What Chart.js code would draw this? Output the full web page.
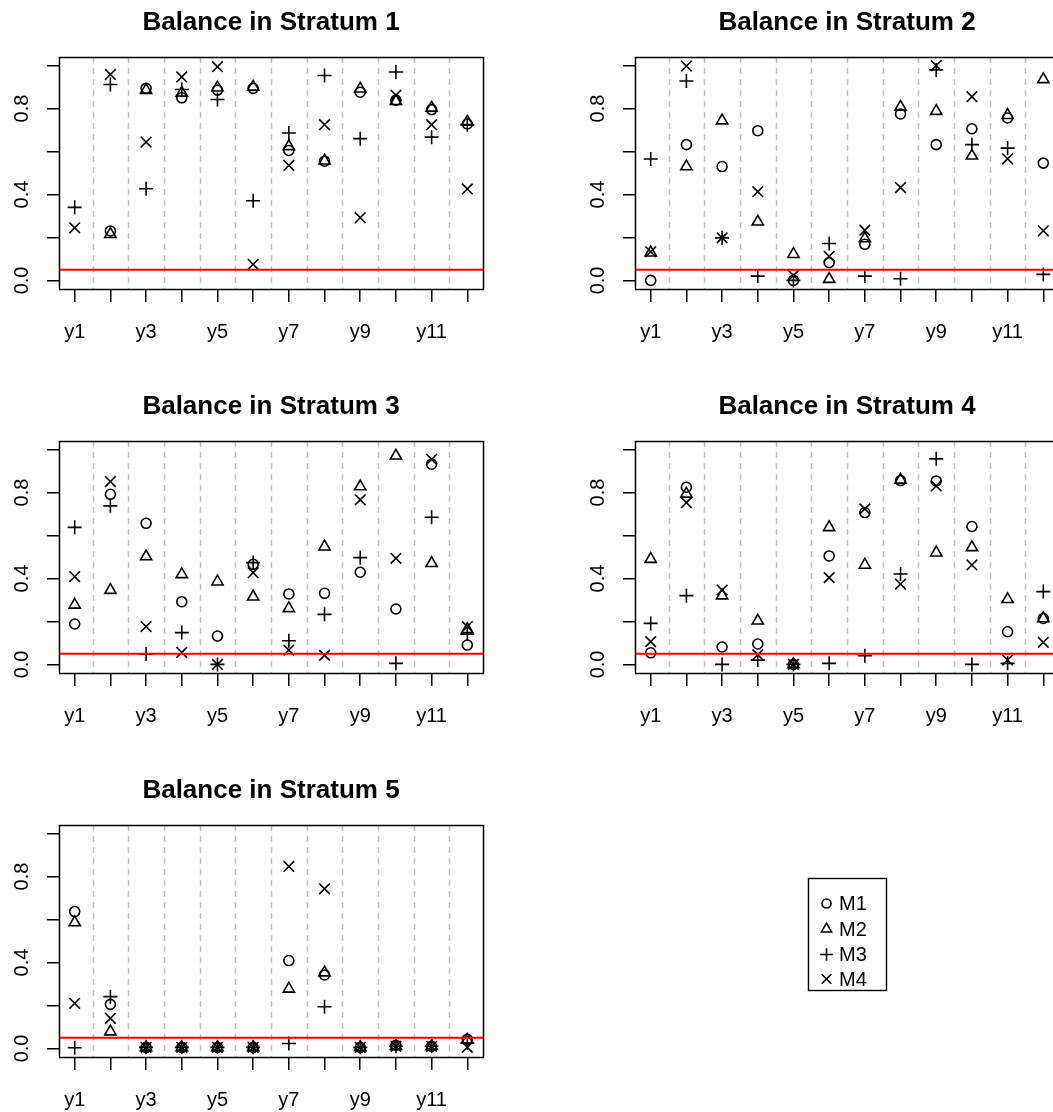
<!DOCTYPE html>
<html>
<head>
<meta charset="utf-8">
<script src="https://cdn.jsdelivr.net/npm/chart.js@4.4.1/dist/chart.umd.min.js"></script>
<style>
  html, body { margin: 0; padding: 0; background: #fff; overflow: hidden; width: 1053px; height: 1112px; }
  .cell { position: absolute; width: 576px; height: 384px; }
  .cell canvas { display: block; }
</style>
</head>
<body>
<div class="cell" style="left:0;top:0"><canvas id="p1" width="576" height="384"></canvas></div>
<div class="cell" style="left:576px;top:0"><canvas id="p2" width="576" height="384"></canvas></div>
<div class="cell" style="left:0;top:384px"><canvas id="p3" width="576" height="384"></canvas></div>
<div class="cell" style="left:576px;top:384px"><canvas id="p4" width="576" height="384"></canvas></div>
<div class="cell" style="left:0;top:768px"><canvas id="p5" width="576" height="384"></canvas></div>
<div class="cell" style="left:576px;top:768px"><canvas id="leg" width="576" height="384"></canvas></div>
<script>
// Covariates on the x axis and the four matching methods
const categories = ['y1','y2','y3','y4','y5','y6','y7','y8','y9','y10','y11','y12'];
const methodNames = ['M1','M2','M3','M4'];
const yTickValues = [0, 0.2, 0.4, 0.6, 0.8, 1.0];
const yTickLabels = ['0.0', '', '0.4', '', '0.8', ''];
const threshold = 0.05;

// Balance p-values, stratum 1
const s1M1 = [null, 0.230, 0.894, 0.850, 0.886, 0.894, 0.605, 0.555, 0.876, 0.839, 0.795, 0.728];
const s1M2 = [null, 0.215, 0.886, 0.873, 0.897, 0.901, 0.624, 0.557, 0.892, 0.834, 0.803, 0.738];
const s1M3 = [0.340, 0.912, 0.427, 0.889, 0.842, 0.371, 0.686, 0.954, 0.660, 0.970, 0.667, 0.725];
const s1M4 = [0.245, 0.959, 0.644, 0.947, 0.995, 0.075, 0.535, 0.725, 0.292, 0.862, 0.725, 0.426];

// stratum 2
const s2M1 = [0.000, 0.632, 0.530, 0.697, 0.000, 0.083, 0.168, 0.775, 0.632, 0.706, 0.756, 0.546];
const s2M2 = [0.129, 0.530, 0.744, 0.273, 0.122, 0.006, 0.195, 0.808, 0.788, 0.580, 0.769, 0.936];
const s2M3 = [0.565, 0.928, 0.198, 0.020, 0.000, 0.172, 0.020, 0.008, 0.980, 0.632, 0.616, 0.028];
const s2M4 = [0.133, 0.998, 0.198, 0.413, 0.023, 0.112, 0.234, 0.432, 1.000, 0.855, 0.566, 0.231];

// stratum 3
const s3M1 = [0.188, 0.792, 0.657, 0.292, 0.132, 0.466, 0.328, 0.331, 0.429, 0.258, 0.932, 0.090];
const s3M2 = [0.277, 0.346, 0.502, 0.419, 0.385, 0.315, 0.261, 0.548, 0.828, 0.971, 0.471, 0.163];
const s3M3 = [0.638, 0.738, 0.048, 0.148, 0.000, 0.474, 0.110, 0.233, 0.497, 0.005, 0.685, 0.141];
const s3M4 = [0.409, 0.851, 0.176, 0.056, 0.000, 0.427, 0.067, 0.042, 0.766, 0.494, 0.955, 0.176];

// stratum 4
const s4M1 = [0.054, 0.825, 0.081, 0.095, 0.000, 0.505, 0.707, 0.856, 0.854, 0.642, 0.152, 0.214];
const s4M2 = [0.490, 0.794, 0.320, 0.203, 0.000, 0.638, 0.463, 0.859, 0.520, 0.545, 0.303, 0.214];
const s4M3 = [0.191, 0.320, 0.000, 0.020, 0.000, 0.005, 0.040, 0.421, 0.957, 0.000, 0.005, 0.339];
const s4M4 = [0.106, 0.753, 0.346, 0.045, 0.000, 0.404, 0.724, 0.374, 0.831, 0.463, 0.020, 0.103];

// stratum 5
const s5M1 = [0.637, 0.205, 0.005, 0.005, 0.005, 0.005, 0.409, 0.342, 0.005, 0.015, 0.010, 0.042];
const s5M2 = [0.586, 0.078, 0.005, 0.005, 0.005, 0.005, 0.277, 0.353, 0.005, 0.010, 0.010, 0.040];
const s5M3 = [0.003, 0.241, 0.005, 0.005, 0.005, 0.005, 0.023, 0.194, 0.005, 0.010, 0.010, 0.025];
const s5M4 = [0.210, 0.140, 0.005, 0.005, 0.005, 0.005, 0.847, 0.743, 0.005, 0.010, 0.010, 0.005];

// Marker look for each method (open circle, open triangle, plus, cross)
const markerStyles = ['circle', 'triangle', 'cross', 'crossRot'];
const markerRadius = [5, 6.5, 7, 7.5];
const markerStroke = 1.6;

const FONT = '"Liberation Sans", Arial, Helvetica, sans-serif';
const n = categories.length;
const xPad = 0.04 * (n - 1);
const yMin = 0, yMax = 1;
const yPad = 0.04 * (yMax - yMin);

// Draws the panel frame, separators, reference line, rotated y labels and title
const panelDecor = {
  id: 'panelDecor',
  beforeDatasetsDraw(chart) {
    const { ctx, chartArea: a, scales: { x } } = chart;
    ctx.save();
    ctx.strokeStyle = '#BEBEBE';
    ctx.lineWidth = 1.5;
    ctx.setLineDash([6, 5]);
    for (let i = 1; i < n; i++) {
      const px = Math.round(x.getPixelForValue(i + 0.5)) + 0.5;
      ctx.beginPath();
      ctx.moveTo(px, a.top);
      ctx.lineTo(px, a.bottom);
      ctx.stroke();
    }
    ctx.restore();
  },
  afterDatasetsDraw(chart) {
    const { ctx, chartArea: a, scales: { y } } = chart;
    const py = y.getPixelForValue(threshold);
    ctx.save();
    ctx.strokeStyle = '#FF0000';
    ctx.lineWidth = 2;
    ctx.beginPath();
    ctx.moveTo(a.left, py);
    ctx.lineTo(a.right, py);
    ctx.stroke();
    ctx.restore();
  },
  afterDraw(chart, args, opts) {
    const { ctx, chartArea: a, scales: { y } } = chart;
    ctx.save();
    ctx.strokeStyle = '#000';
    ctx.lineWidth = 1.5;
    ctx.strokeRect(Math.round(a.left) + 0.5, Math.round(a.top) + 0.5,
                   Math.round(a.right - a.left), Math.round(a.bottom - a.top));
    // y tick labels, rotated as in base graphics
    ctx.fillStyle = '#000';
    ctx.font = '20px ' + FONT;
    ctx.textAlign = 'center';
    ctx.textBaseline = 'alphabetic';
    yTickValues.forEach((v, i) => {
      if (!yTickLabels[i]) return;
      ctx.save();
      ctx.translate(a.left - 31.5, y.getPixelForValue(v));
      ctx.rotate(-Math.PI / 2);
      ctx.fillText(yTickLabels[i], 0, 0);
      ctx.restore();
    });
    // panel title
    ctx.font = 'bold 26px ' + FONT;
    ctx.fillText(opts.title, (a.left + a.right) / 2, 30);
    ctx.restore();
  }
};

function buildPanel(id, title, series) {
  const datasets = series.map((vals, k) => ({
    label: methodNames[k],
    data: vals.map((v, i) => ({ x: i + 1, y: v })).filter(p => p.y !== null),
    pointStyle: markerStyles[k],
    pointRadius: markerRadius[k],
    pointHoverRadius: markerRadius[k],
    borderColor: '#000',
    backgroundColor: 'rgba(0,0,0,0)',
    pointBorderWidth: markerStroke,
    showLine: false
  }));
  return new Chart(document.getElementById(id), {
    type: 'scatter',
    data: { datasets },
    options: {
      responsive: false,
      animation: false,
      devicePixelRatio: 1,
      layout: { padding: { left: 0, right: 93, top: 57, bottom: 0 } },
      plugins: {
        legend: { display: false },
        tooltip: { enabled: false },
        title: { display: false },
        panelDecor: { title }
      },
      scales: {
        x: {
          type: 'linear',
          min: 1 - xPad,
          max: n + xPad,
          afterBuildTicks: s => { s.ticks = categories.map((_, i) => ({ value: i + 1 })); },
          afterFit: s => { s.height = 95; },
          border: { display: false },
          grid: { drawOnChartArea: false, drawTicks: true, tickLength: 13, tickColor: '#000', tickWidth: 1.5, color: '#000', lineWidth: 1.5 },
          ticks: {
            autoSkip: false, maxRotation: 0, minRotation: 0, padding: 18,
            color: '#000', font: { family: FONT, size: 20 },
            callback: v => { const i = Math.round(v) - 1; return i % 2 === 0 ? categories[i] : ''; }
          }
        },
        y: {
          type: 'linear',
          min: yMin - yPad,
          max: yMax + yPad,
          afterBuildTicks: s => { s.ticks = yTickValues.map(v => ({ value: v })); },
          afterFit: s => { s.width = 59; },
          border: { display: false },
          grid: { drawOnChartArea: false, drawTicks: true, tickLength: 12, tickColor: '#000', tickWidth: 1.5, color: '#000', lineWidth: 1.5 },
          ticks: { display: false }
        }
      }
    },
    plugins: [panelDecor]
  });
}

buildPanel('p1', 'Balance in Stratum 1', [s1M1, s1M2, s1M3, s1M4]);
buildPanel('p2', 'Balance in Stratum 2', [s2M1, s2M2, s2M3, s2M4]);
buildPanel('p3', 'Balance in Stratum 3', [s3M1, s3M2, s3M3, s3M4]);
buildPanel('p4', 'Balance in Stratum 4', [s4M1, s4M2, s4M3, s4M4]);
buildPanel('p5', 'Balance in Stratum 5', [s5M1, s5M2, s5M3, s5M4]);

// Boxed key in the spare cell, markers drawn with the same point styles
const boxedKey = {
  id: 'boxedKey',
  afterDraw(chart) {
    const { ctx } = chart;
    const box = { x: 232.5, y: 110.5, w: 78, h: 112 };
    const rowY = [135.5, 161, 186.5, 211];
    ctx.save();
    ctx.strokeStyle = '#000';
    ctx.lineWidth = 1.4;
    ctx.strokeRect(box.x, box.y, box.w, box.h);
    ctx.font = '20px ' + FONT;
    ctx.textAlign = 'left';
    ctx.textBaseline = 'middle';
    chart.data.datasets.forEach((ds, k) => {
      ctx.strokeStyle = '#000';
      ctx.lineWidth = markerStroke;
      ctx.fillStyle = 'rgba(0,0,0,0)';
      Chart.helpers.drawPoint(ctx, { pointStyle: ds.pointStyle, radius: ds.pointRadius, rotation: 0, borderWidth: markerStroke }, 250.5, rowY[k]);
      ctx.fillStyle = '#000';
      ctx.fillText(ds.label, 263, rowY[k] + 1);
    });
    ctx.restore();
  }
};

new Chart(document.getElementById('leg'), {
  type: 'scatter',
  data: {
    datasets: methodNames.map((m, k) => ({
      label: m, data: [], pointStyle: markerStyles[k], pointRadius: markerRadius[k] * 0.9
    }))
  },
  options: {
    responsive: false, animation: false, devicePixelRatio: 1,
    plugins: { legend: { display: false }, tooltip: { enabled: false } },
    scales: { x: { display: false }, y: { display: false } }
  },
  plugins: [boxedKey]
});
</script>
</body>
</html>
